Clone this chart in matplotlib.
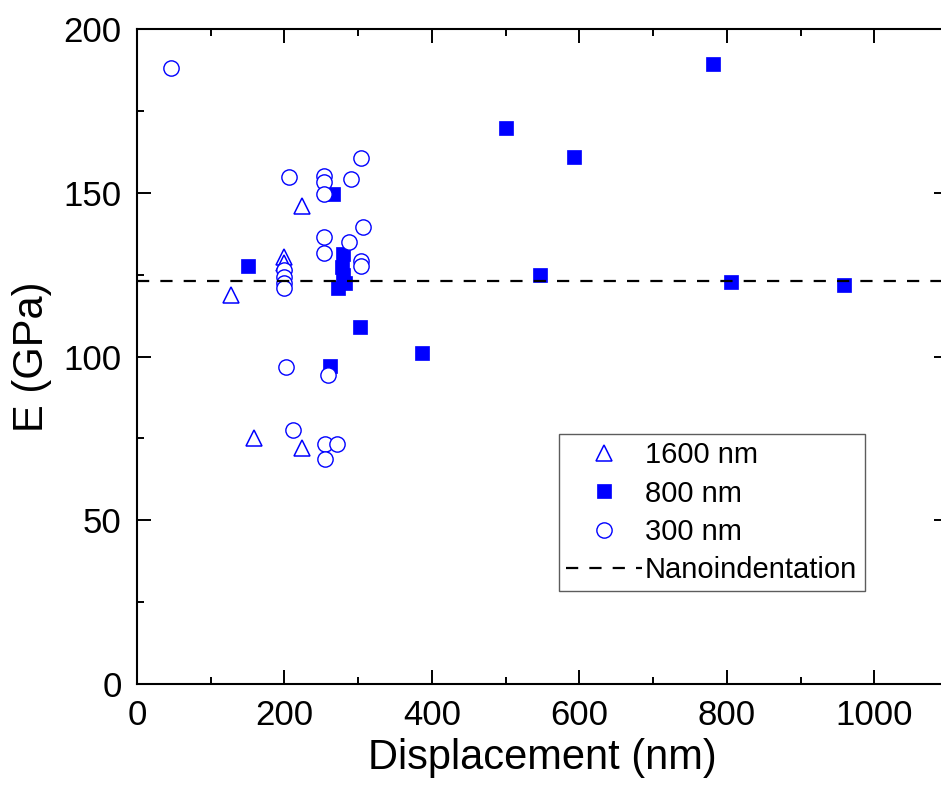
import matplotlib
matplotlib.use("Agg")
import matplotlib.pyplot as plt
from matplotlib.ticker import MultipleLocator

plt.rcParams['font.family'] = ['Liberation Sans', 'DejaVu Sans']

# --------- data ---------
# 1600 nm pillars
tri_x = [128, 159, 199, 199, 224, 224]
tri_y = [118.8, 75.0, 130.3, 128.7, 146.1, 72.0]

# 800 nm pillars
sq_x = [150, 262, 266, 272, 278, 280, 280, 282, 303, 386, 500, 547, 593, 781, 806, 959]
sq_y = [127.8, 97.1, 149.7, 121.0, 127.5, 131.5, 125.0, 122.5, 109.0, 101.2,
        169.9, 124.8, 160.9, 189.4, 122.7, 122.0]

# 300 nm pillars
circ_x = [46, 206, 253, 253, 253, 304, 290, 253, 253, 287, 307, 304, 304,
          199, 199, 199, 199, 202, 259, 212, 255, 271, 255]
circ_y = [188.1, 155.0, 155.3, 153.3, 149.6, 160.6, 154.4, 136.6, 131.8, 135.0,
          139.5, 129.2, 127.8, 126.5, 124.4, 122.6, 120.9, 96.7, 94.4, 77.6,
          73.3, 73.3, 68.6]

E_nano = 123.0  # nanoindentation reference
labels = ["1600 nm", "800 nm", "300 nm", "Nanoindentation"]

# --------- figure ---------
fig = plt.figure(figsize=(9.41, 7.85), dpi=100)
ax = fig.add_axes([137/941, 1-684/785, (948-137)/941, (684-29.3)/785])

blue = "#0000FF"
ax.plot(tri_x, tri_y, ls="none", marker="^", ms=12, mfc="white", mec=blue,
        mew=1.1, label=labels[0], zorder=3)
ax.plot(sq_x, sq_y, ls="none", marker="s", ms=10, mfc=blue, mec=blue,
        mew=0.5, label=labels[1], zorder=3)
ax.plot(circ_x, circ_y, ls="none", marker="o", ms=11, mfc="white", mec=blue,
        mew=1.0, label=labels[2], zorder=4)
ax.axhline(E_nano, color="black", lw=1.6, ls=(0, (5.5, 5)), label=labels[3], zorder=5)

ax.set_xlim(0, 1100)
ax.set_ylim(0, 200)
ax.xaxis.set_major_locator(MultipleLocator(200))
ax.xaxis.set_minor_locator(MultipleLocator(100))
ax.yaxis.set_major_locator(MultipleLocator(50))
ax.yaxis.set_minor_locator(MultipleLocator(25))
ax.tick_params(which="both", direction="in", top=True, right=True, width=1.4)
ax.tick_params(which="major", length=10, labelsize=25, pad=11)
ax.tick_params(which="minor", length=5)
for s in ax.spines.values():
    s.set_linewidth(1.5)

ax.set_xlabel("Displacement (nm)", fontsize=30, labelpad=4)
ax.set_ylabel("E (GPa)", fontsize=30, labelpad=8)

leg = ax.legend(loc="upper left", bbox_to_anchor=(559/941, 1-434/785),
                bbox_transform=fig.transFigure, fontsize=21, numpoints=1,
                frameon=True, fancybox=False, edgecolor="#333333",
                handlelength=2.6, handletextpad=0.1, borderpad=0.25,
                labelspacing=0.35, borderaxespad=0)
leg.get_frame().set_linewidth(1.0)

fig.savefig("out.png", dpi=100)
